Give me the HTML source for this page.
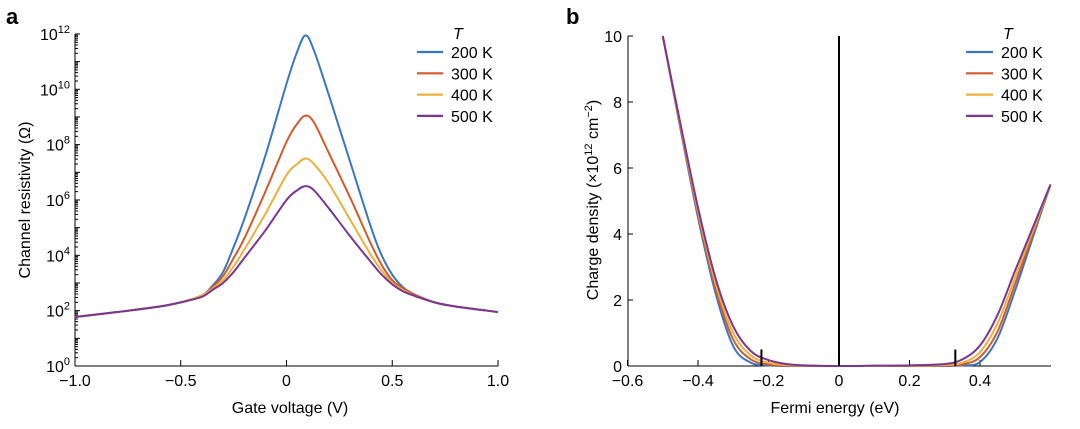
<!DOCTYPE html>
<html><head><meta charset="utf-8"><style>
body{margin:0;background:#fff}
svg{font-family:"Liberation Sans",Arial,sans-serif}
</style></head><body>
<svg id="c" width="1080" height="424" xmlns="http://www.w3.org/2000/svg"></svg>
<script>
const colors=['#3a76c4','#d35a2a','#ebb13c','#7a3694'];
const temps=['200 K','300 K','400 K','500 K'];
// Panel a data (log10 resistivity)
const gateV=[-1,-0.8,-0.6,-0.5,-0.4,-0.35,-0.3,-0.25,-0.2,-0.1,0,0.05,0.09,0.13,0.2,0.3,0.4,0.45,0.5,0.55,0.6,0.7,0.8,1.0];
const logR200=[1.77,1.95,2.15,2.3,2.55,2.9,3.4,4.3,5.3,7.6,10.2,11.35,11.95,11.4,9.8,7.4,5.0,4.0,3.3,2.85,2.6,2.3,2.15,1.95];
const logR300=[1.77,1.95,2.15,2.3,2.55,2.85,3.25,3.9,4.6,6.3,8.1,8.75,9.05,8.8,7.7,6.1,4.4,3.65,3.1,2.8,2.6,2.3,2.15,1.95];
const logR400=[1.77,1.95,2.15,2.3,2.55,2.8,3.1,3.6,4.2,5.5,6.9,7.3,7.5,7.3,6.6,5.3,4.0,3.45,3.0,2.75,2.55,2.3,2.15,1.95];
const logR500=[1.77,1.95,2.15,2.3,2.5,2.75,3.0,3.4,3.9,4.9,6.0,6.35,6.5,6.35,5.7,4.7,3.75,3.3,2.95,2.7,2.55,2.3,2.15,1.95];
const aXTicks=[-1,-0.5,0,0.5,1];
const aXLabels=['\u22121.0','\u22120.5','0','0.5','1.0'];
const aYTicks=[0,2,4,6,8,10,12];
// Panel b data
const fermiE=[-0.5,-0.45,-0.4,-0.35,-0.3,-0.25,-0.2,-0.15,-0.1,0,0.1,0.2,0.3,0.35,0.4,0.45,0.5,0.55,0.6];
const n200=[10,7.2,4.5,2.2,0.6,0.1,0.02,0,0,0,0,0,0,0.02,0.12,0.85,2.3,3.9,5.5];
const n300=[10,7.25,4.6,2.35,0.8,0.2,0.05,0.01,0,0,0,0,0.01,0.05,0.27,1.05,2.5,4.0,5.5];
const n400=[10,7.3,4.7,2.5,1.0,0.32,0.1,0.03,0.01,0,0,0.01,0.03,0.1,0.42,1.3,2.7,4.1,5.5];
const n500=[10,7.35,4.8,2.65,1.2,0.45,0.18,0.06,0.02,0,0.01,0.02,0.06,0.2,0.62,1.55,2.9,4.2,5.5];
const bXTicks=[-0.6,-0.4,-0.2,0,0.2,0.4];
const bXLabels=['\u22120.6','\u22120.4','\u22120.2','0','0.2','0.4'];
const bYTicks=[0,2,4,6,8,10];
const markers=[-0.22,0.33];

const svg=document.getElementById('c');
const NS='http://www.w3.org/2000/svg';
function el(tag,attrs,parent){const e=document.createElementNS(NS,tag);for(const k in attrs)e.setAttribute(k,attrs[k]);(parent||svg).appendChild(e);return e;}
function txt(s,attrs,parent){const e=el('text',attrs,parent);e.textContent=s;return e;}
function smooth(pts){let d='M'+pts[0][0]+','+pts[0][1];for(let i=0;i<pts.length-1;i++){const p0=pts[Math.max(i-1,0)],p1=pts[i],p2=pts[i+1],p3=pts[Math.min(i+2,pts.length-1)];const c1=[p1[0]+(p2[0]-p0[0])/6,p1[1]+(p2[1]-p0[1])/6],c2=[p2[0]-(p3[0]-p1[0])/6,p2[1]-(p3[1]-p1[1])/6];d+=' C'+c1[0]+','+c1[1]+' '+c2[0]+','+c2[1]+' '+p2[0]+','+p2[1];}return d;}

// Panel a
const ax=v=>75+(v+1)/2*423, ay=v=>366-v*27.67;
const ga=el('g',{});


const la=txt('a',{x:6,y:24,'font-size':22,'font-weight':'bold'},ga);


el('line',{x1:75,y1:34,x2:75,y2:366,stroke:'#000','stroke-width':1},ga);
el('line',{x1:75,y1:366,x2:498,y2:366,stroke:'#000','stroke-width':1},ga);
for(let d=0;d<12;d++){for(let k=2;k<10;k++){const y=ay(d+Math.log10(k));el('line',{x1:75,y1:y,x2:78,y2:y,stroke:'#000','stroke-width':1},ga);}}
for(let d=0;d<=12;d++){el('line',{x1:75,y1:ay(d),x2:80,y2:ay(d),stroke:'#000','stroke-width':1},ga);}
aYTicks.forEach(v=>{const t=el('text',{x:70,y:ay(v)+6,'font-size':16,'text-anchor':'end'},ga);t.textContent='10';const s=el('tspan',{'font-size':11,dy:-7},t);s.textContent=String(v);

});
aXTicks.forEach((v,i)=>{el('line',{x1:ax(v),y1:366,x2:ax(v),y2:360,stroke:'#000'},ga);const t=txt(aXLabels[i],{x:ax(v),y:386,'font-size':16,'text-anchor':'middle'},ga);

});
const xta=txt('Gate voltage (V)',{x:290,y:413,'font-size':16,'text-anchor':'middle'},ga);


const yta=txt('Channel resistivity (\u03a9)',{x:0,y:0,'font-size':16,'text-anchor':'middle',transform:'translate(30,200) rotate(-90)'},ga);


[logR200,logR300,logR400,logR500].forEach((s,i)=>{const p=el('path',{d:smooth(gateV.map((x,j)=>[ax(x),ay(s[j])])),fill:'none',stroke:colors[i],'stroke-width':2},ga);

});
txt('T',{x:453,y:39,'font-size':16,'font-style':'italic'},ga);
temps.forEach((t,i)=>{const g=el('g',{},ga);


const y=52+i*21.3;el('line',{x1:417,y1:y,x2:443,y2:y,stroke:colors[i],'stroke-width':2.2},g);txt(t,{x:451,y:y+6,'font-size':16},g);});

// Panel b
const bx=v=>839+v*352.5, by=v=>366-v*33;
const gb=el('g',{});


const lb=txt('b',{x:566,y:24,'font-size':22,'font-weight':'bold'},gb);


el('line',{x1:628,y1:36,x2:628,y2:366,stroke:'#000'},gb);
el('line',{x1:628,y1:366,x2:1051,y2:366,stroke:'#000'},gb);
bYTicks.forEach(v=>{el('line',{x1:628,y1:by(v),x2:633,y2:by(v),stroke:'#000'},gb);const t=txt(String(v),{x:622,y:by(v)+6,'font-size':16,'text-anchor':'end'},gb);

});
bXTicks.forEach((v,i)=>{el('line',{x1:bx(v),y1:366,x2:bx(v),y2:360,stroke:'#000'},gb);const t=txt(bXLabels[i],{x:bx(v),y:386,'font-size':16,'text-anchor':'middle'},gb);

});
const xtb=txt('Fermi energy (eV)',{x:835,y:413,'font-size':16,'text-anchor':'middle'},gb);


const ytb=el('text',{x:0,y:0,'font-size':16,'text-anchor':'middle',transform:'translate(598,200) rotate(-90)'},gb);


ytb.appendChild(document.createTextNode('Charge density (\u00d710'));
{const s=el('tspan',{'font-size':11,dy:-6},ytb);s.textContent='12';const s2=el('tspan',{dy:6},ytb);s2.textContent=' cm';const s3=el('tspan',{'font-size':11,dy:-6},ytb);s3.textContent='\u22122';const s4=el('tspan',{dy:6},ytb);s4.textContent=')';}
[n200,n300,n400,n500].forEach((s,i)=>{const p=el('path',{d:smooth(fermiE.map((x,j)=>[bx(x),by(Math.max(0,s[j]))])),fill:'none',stroke:colors[i],'stroke-width':2},gb);

});
const vl=el('line',{x1:bx(0),y1:by(0),x2:bx(0),y2:by(10),stroke:'#000','stroke-width':2},gb);


markers.forEach(m=>{const l=el('line',{x1:bx(m),y1:by(0),x2:bx(m),y2:by(0.5),stroke:'#000','stroke-width':2},gb);

});
txt('T',{x:1003,y:39,'font-size':16,'font-style':'italic'},gb);
temps.forEach((t,i)=>{const g=el('g',{},gb);


const y=52+i*21.3;el('line',{x1:966,y1:y,x2:993,y2:y,stroke:colors[i],'stroke-width':2.2},g);txt(t,{x:1001,y:y+6,'font-size':16},g);});
</script>
</body></html>
